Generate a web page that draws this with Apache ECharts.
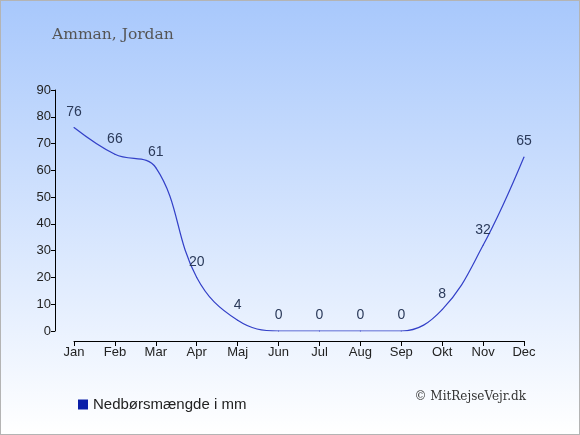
<!DOCTYPE html>
<html>
<head>
<meta charset="utf-8">
<script src="https://cdn.jsdelivr.net/npm/echarts@6/dist/echarts.min.js"></script>
<style>
html,body{margin:0;padding:0;}
#main{width:578px;height:433px;border:1px solid #b4b4b4;}
</style>
</head>
<body>
<div id="main"></div>
<script>
// maaneder og nedboer i mm
var months=["Jan","Feb","Mar","Apr","Maj","Jun","Jul","Aug","Sep","Okt","Nov","Dec"];
var rain=[76,66,61,20,4,0,0,0,0,8,32,65];
var yTicks=[0,10,20,30,40,50,60,70,80,90];

var myChart=echarts.init(document.getElementById('main'));
var option={
    backgroundColor:new echarts.graphic.LinearGradient(0,0,0,1,[
        {offset:0,color:"#a8c8fc"},
        {offset:1,color:"#ffffff"}
    ]),
    animation:false,
    title:{
        text:"Amman, Jordan",
        left:46,
        top:21,
        textStyle:{fontFamily:"DejaVu Serif",fontWeight:"normal",fontSize:15.5,color:"#555555"}
    },
    legend:{
        data:[{name:"Nedbørsmængde i mm",icon:"rect",itemStyle:{color:"#0a1ea8",opacity:1}}],
        left:72,
        top:391,
        itemWidth:10,
        itemHeight:10,
        itemGap:5,
        textStyle:{fontFamily:"Liberation Sans",fontSize:15,color:"#222222"}
    },
    graphic:[{
        type:"text",
        right:53,
        top:390,
        style:{text:"© MitRejseVejr.dk",font:"12px 'DejaVu Serif'",fill:"#333333"}
    }],
    grid:{left:73,right:55,top:89,bottom:103},
    xAxis:{
        type:"category",
        data:months,
        boundaryGap:false,
        offset:10,
        axisLine:{onZero:false,lineStyle:{color:"#000000",width:1}},
        axisTick:{length:5,lineStyle:{color:"#000000"}},
        axisLabel:{color:"#222222",fontFamily:"Liberation Sans",fontSize:13,margin:5},
        splitLine:{show:false}
    },
    yAxis:{
        type:"value",
        min:yTicks[0],
        max:yTicks[yTicks.length-1],
        interval:10,
        offset:19,
        axisLine:{show:true,lineStyle:{color:"#000000",width:1}},
        axisTick:{show:true,length:4,lineStyle:{color:"#000000"}},
        axisLabel:{color:"#222222",fontFamily:"Liberation Sans",fontSize:13,margin:4},
        splitLine:{show:false}
    },
    series:[{
        name:"Nedbørsmængde i mm",
        type:"line",
        data:rain,
        smooth:0.4,
        symbol:"circle",
        symbolSize:1,
        itemStyle:{color:"#3340c8"},
        lineStyle:{color:"#3340c8",width:1.2},
        label:{
            show:true,
            position:"top",
            distance:8,
            color:"#2b3a5a",
            fontFamily:"Liberation Sans",
            fontSize:14
        }
    }]
};
myChart.setOption(option);
</script>
</body>
</html>
